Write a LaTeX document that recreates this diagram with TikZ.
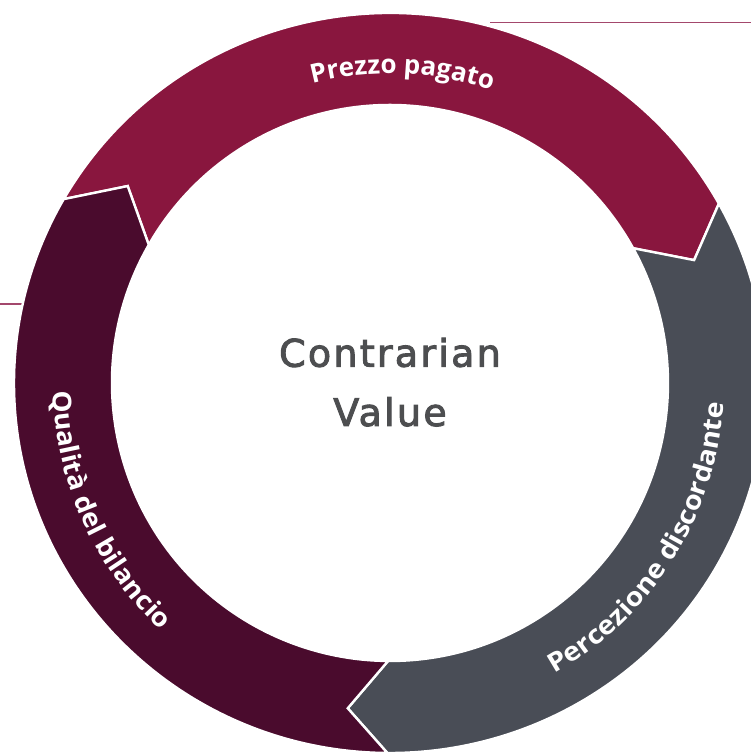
\documentclass[tikz,border=0pt]{standalone}
\usepackage{fontspec}
\usetikzlibrary{decorations.text}
\newfontfamily\topfont{Open Sans}
\newfontfamily\leftfont[FakeStretch=1.07]{Open Sans}
\newfontfamily\rightfont[FakeStretch=1.1]{Open Sans}
\newfontfamily\centerfont[LetterSpace=6,FakeBold=2.5]{DejaVu Sans}
\definecolor{crimson}{HTML}{89163E}
\definecolor{plum}{HTML}{4A0B2D}
\definecolor{slate}{HTML}{494D56}
\definecolor{rule}{HTML}{A3476C}
\definecolor{midgrey}{HTML}{4D4E50}
\begin{document}
\begin{tikzpicture}[x=1pt,y=1pt,
  seg/.style={draw=white, line width=2.4pt, line join=miter},
  guide/.style={draw=rule, line width=1.3pt},
  ringlabel/.style 2 args={decorate, decoration={text along path, text align=center, text color=white,
     text={|#1\bfseries\fontsize{26}{30}\selectfont|#2}}},
  bigtext/.style={font=\centerfont\fontsize{38}{44}\selectfont, text=midgrey, inner sep=0pt}]
\useasboundingbox (-390,-369) rectangle (361,383);
\clip (-390,-369) rectangle (361,383);
% thin guide lines
\coordinate (t0) at (100,360.3);
\coordinate (t1) at (361,360.3);
\coordinate (l0) at (-390,79);
\coordinate (l1) at (-300,79);
\draw[guide] (t0) -- (t1);
\draw[guide] (l0) -- (l1);
% ring segments
% crimson: 150.2 -> 29
\filldraw[seg, fill=crimson] (150.2:376pt and 370pt) arc[start angle=150.2, end angle=29, x radius=376pt, y radius=370pt]
  -- (22:328pt) -- (29:278pt) arc[start angle=29, end angle=150.2, radius=278pt] -- (143.1:328pt) -- cycle;
% slate: 29 -> -90.4
\filldraw[seg, fill=slate] (29:376pt and 370pt) arc[start angle=29, end angle=-90.4, x radius=376pt, y radius=370pt]
  -- (-97.4:328pt) -- (-90.4:278pt) arc[start angle=-90.4, end angle=29, radius=278pt] -- (22:328pt) -- cycle;
% plum: -90.4 -> -209.8
\filldraw[seg, fill=plum] (-90.4:376pt and 370pt) arc[start angle=-90.4, end angle=-209.8, x radius=376pt, y radius=370pt]
  -- (-216.9:328pt) -- (-209.8:278pt) arc[start angle=-209.8, end angle=-90.4, radius=278pt] -- (-97.4:328pt) -- cycle;
% curved labels
\path[ringlabel={\topfont\fontsize{25}{28}\selectfont}{Prezzo pagato}] (122.7:309.5pt) arc[start angle=122.7, end angle=52.7, radius=309.5pt];
\path[ringlabel={\leftfont}{Qualità del bilancio}] (164.3:337pt) arc[start angle=164.3, end angle=244.3, radius=337pt];
\path[ringlabel={\rightfont}{Percezione discordante}] (-72:334pt) arc[start angle=-72, end angle=8, radius=334pt];
% centre text
\node[bigtext, anchor=base] (c1) at (0,16.3) {Contrarian};
\node[bigtext, anchor=base] (c2) at (0,-43) {Value};
\end{tikzpicture}
\end{document}
